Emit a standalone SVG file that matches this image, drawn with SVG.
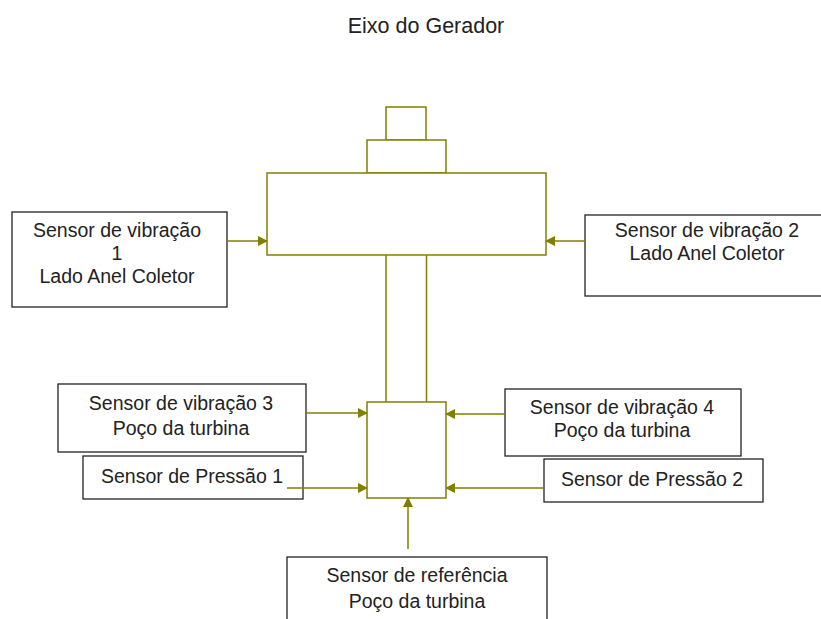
<svg xmlns="http://www.w3.org/2000/svg" width="821" height="619" viewBox="0 0 821 619">
<style>
.s{fill:#fff;stroke:#222;stroke-width:1.3}
.g{fill:#fff;stroke:#808000;stroke-width:1.5}
.c{stroke:#808000;stroke-width:1.5;fill:none}
text{font-family:"Liberation Sans",Arial,sans-serif;font-size:19.5px;fill:#222;text-anchor:middle}
</style>
<defs>
<marker id="a" markerWidth="10" markerHeight="10" refX="9" refY="5" orient="auto" markerUnits="userSpaceOnUse">
<path d="M0,0 L10,5 L0,10 Z" fill="#808000"/>
</marker>
</defs>
<rect width="821" height="619" fill="#fff"/>
<text x="426" y="33" style="font-size:21.5px">Eixo do Gerador</text>
<g id="gerador">
<rect class="g" x="386" y="107" width="40" height="33"/>
<rect class="g" x="367" y="140" width="79" height="33"/>
<rect class="g" x="267" y="173" width="279" height="82"/>
<line class="c" x1="386" y1="255" x2="386" y2="402"/>
<line class="c" x1="426.5" y1="255" x2="426.5" y2="402"/>
<rect class="g" x="367" y="402" width="79" height="96"/>
</g>
<g id="s1">
<rect class="s" x="12" y="212" width="215" height="95"/>
<text x="117" y="237">Sensor de vibração</text>
<text x="117" y="260">1</text>
<text x="117" y="283">Lado Anel Coletor</text>
</g>
<g id="s2">
<rect class="s" x="585" y="215" width="245" height="81"/>
<text x="707" y="237">Sensor de vibração 2</text>
<text x="707" y="260">Lado Anel Coletor</text>
</g>
<g id="s3">
<rect class="s" x="58" y="384" width="248" height="68"/>
<text x="181" y="410">Sensor de vibração 3</text>
<text x="181" y="435">Poço da turbina</text>
</g>
<g id="s4">
<rect class="s" x="505" y="389" width="236" height="67"/>
<text x="622" y="414">Sensor de vibração 4</text>
<text x="622" y="437">Poço da turbina</text>
</g>
<g id="p1">
<rect class="s" x="83" y="456" width="220" height="43"/>
<text x="192" y="483">Sensor de Pressão 1</text>
</g>
<g id="p2">
<rect class="s" x="544" y="459" width="219" height="43"/>
<text x="652" y="486">Sensor de Pressão 2</text>
</g>
<g id="ref">
<rect class="s" x="287" y="557" width="260" height="70"/>
<text x="417" y="582">Sensor de referência</text>
<text x="417" y="608">Poço da turbina</text>
</g>
<g id="connectors">
<line class="c" x1="227" y1="241" x2="267" y2="241" marker-end="url(#a)"/>
<line class="c" x1="585" y1="241" x2="546" y2="241" marker-end="url(#a)"/>
<line class="c" x1="306" y1="413" x2="367" y2="413" marker-end="url(#a)"/>
<line class="c" x1="287" y1="488" x2="367" y2="488" marker-end="url(#a)"/>
<line class="c" x1="505" y1="414" x2="446" y2="414" marker-end="url(#a)"/>
<line class="c" x1="544" y1="488" x2="446" y2="488" marker-end="url(#a)"/>
<line class="c" x1="408" y1="549" x2="408" y2="498" marker-end="url(#a)"/>
</g>
</svg>
